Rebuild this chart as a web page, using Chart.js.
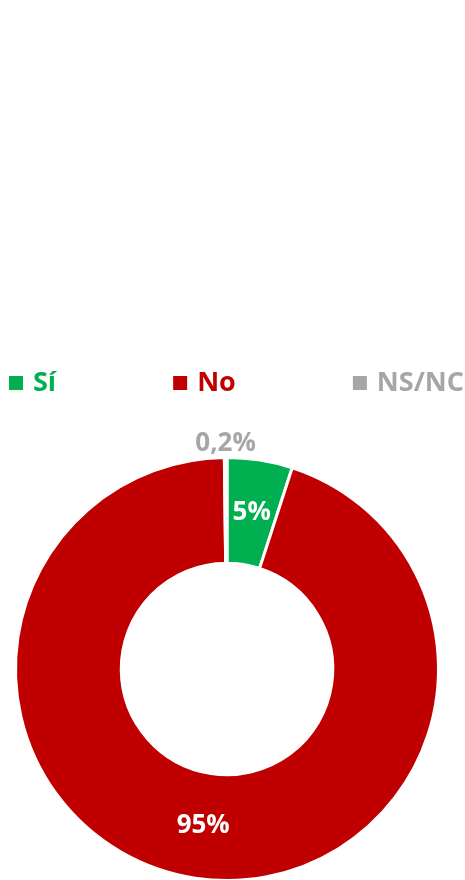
<!DOCTYPE html>
<html>
<head>
<meta charset="utf-8">
<script src="https://cdn.jsdelivr.net/npm/chart.js@4/dist/chart.umd.min.js"></script>
<style>
  html, body { margin: 0; padding: 0; background: #ffffff; overflow: hidden; }
  #wrap { position: relative; width: 465px; height: 890px; }
</style>
</head>
<body>
<div id="wrap"><canvas id="chart"></canvas></div>
<script>
// Survey answers (percent of respondents)
const categories = ['Sí', 'No', 'NS/NC'];
const shares = [5, 95, 0.2];
const sliceColors = ['#00B050', '#C00000', '#A6A6A6'];

const FONT = '"Open Sans", "Liberation Sans", sans-serif';

function pctText(v) {
  return String(v).replace('.', ',') + '%';
}

// Legend drawn as one spaced row across the top
const rowLegend = {
  id: 'rowLegend',
  afterDraw(chart) {
    const ctx = chart.ctx;
    const labels = chart.data.labels;
    const colors = chart.data.datasets[0].backgroundColor;
    const box = 14, gapText = 10, left = 9, right = 464, y = 383;
    ctx.save();
    ctx.font = 'bold 27px ' + FONT;
    ctx.textBaseline = 'middle';
    ctx.textAlign = 'left';
    const widths = labels.map(t => box + gapText + ctx.measureText(t).width);
    const total = widths.reduce((a, b) => a + b, 0);
    const spacing = (right - left - total) / (labels.length - 1);
    let x = left;
    labels.forEach((t, i) => {
      ctx.fillStyle = colors[i];
      ctx.fillRect(x, y - box / 2, box, box);
      ctx.fillText(t, x + box + gapText, y);
      x += widths[i] + spacing;
    });
    ctx.restore();
  }
};

// Percentage labels: inside the ring, or just outside for tiny slices
const sliceLabels = {
  id: 'sliceLabels',
  afterDatasetsDraw(chart) {
    const ctx = chart.ctx;
    const meta = chart.getDatasetMeta(0);
    const values = chart.data.datasets[0].data;
    const colors = chart.data.datasets[0].backgroundColor;
    ctx.save();
    ctx.font = 'bold 26px ' + FONT;
    ctx.textAlign = 'center';
    ctx.textBaseline = 'middle';
    meta.data.forEach((arc, i) => {
      const v = values[i];
      const p = arc.getProps(['x', 'y', 'startAngle', 'endAngle', 'innerRadius', 'outerRadius'], true);
      const mid = (p.startAngle + p.endAngle) / 2;
      let r, color;
      if (v < 1) {
        r = p.outerRadius + 14;
        color = colors[i];
      } else {
        r = (p.innerRadius + p.outerRadius) / 2;
        color = '#ffffff';
      }
      ctx.fillStyle = color;
      ctx.fillText(pctText(v), p.x + Math.cos(mid) * r, p.y + Math.sin(mid) * r);
    });
    ctx.restore();
  }
};

new Chart(document.getElementById('chart'), {
  type: 'doughnut',
  data: {
    labels: categories,
    datasets: [{
      data: shares,
      backgroundColor: sliceColors,
      borderColor: '#ffffff',
      borderWidth: 3,
      hoverOffset: 0
    }]
  },
  options: {
    responsive: true,
    maintainAspectRatio: false,
    animation: false,
    cutout: '50%',
    layout: { padding: { left: 13, right: 24, top: 456, bottom: 8 } },
    plugins: {
      legend: { display: false },
      tooltip: { enabled: false }
    }
  },
  plugins: [rowLegend, sliceLabels]
});
</script>
</body>
</html>
